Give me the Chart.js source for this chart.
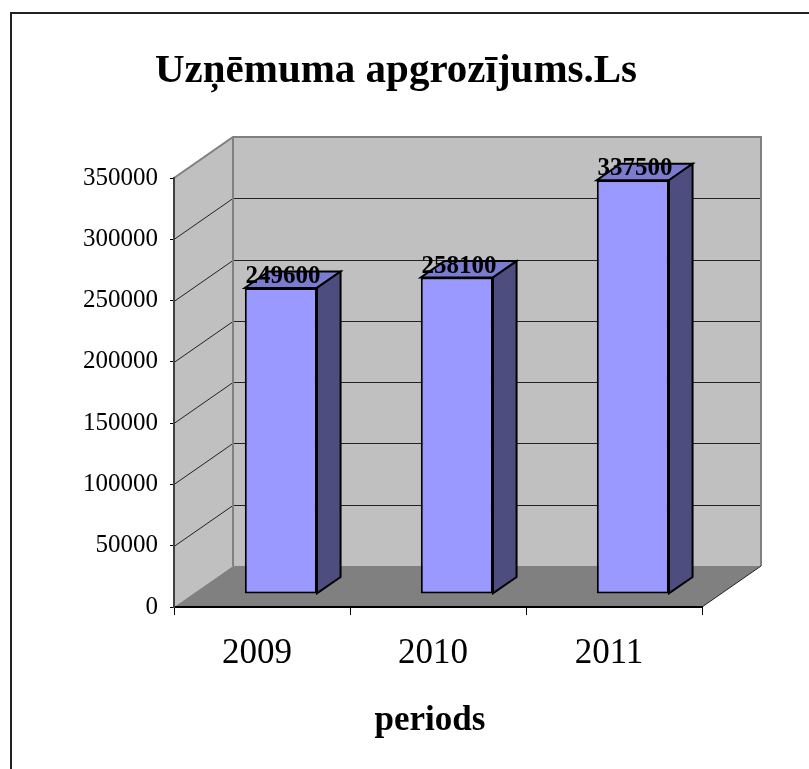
<!DOCTYPE html>
<html>
<head>
<meta charset="utf-8">
<script src="https://cdn.jsdelivr.net/npm/chart.js@4.4.1/dist/chart.umd.min.js"></script>
<style>
html, body { margin: 0; padding: 0; background: #fff; }
canvas { display: block; }
</style>
</head>
<body>
<canvas id="chart" width="809" height="769"></canvas>
<script>
// data
const periods = ['2009', '2010', '2011'];
const turnover = [249600, 258100, 337500];
const yMin = 0;
const yMax = 350000;
const yStep = 50000;

const titleText = 'Uzņēmuma apgrozījums.Ls';
const xTitleText = 'periods';

const SERIF = '"Liberation Serif", "Times New Roman", serif';
// fake 3d: depth of the walls and where the bars sit inside it
const DEPTH = { x: 59, y: -41 };
const BAR_FRONT = 0.32;
const BAR_BACK = 0.72;

function poly(ctx, pts) {
    ctx.beginPath();
    ctx.moveTo(pts[0][0], pts[0][1]);
    for (let i = 1; i < pts.length; i++) ctx.lineTo(pts[i][0], pts[i][1]);
    ctx.closePath();
}

const walls3d = {
    id: 'walls3d',
    beforeDraw(chart) {
        const { ctx, chartArea: a, scales: { y } } = chart;
        const dx = DEPTH.x, dy = DEPTH.y;
        ctx.save();

        // outer frame (runs off the right and bottom edges)
        ctx.strokeStyle = '#222';
        ctx.lineWidth = 2;
        ctx.strokeRect(11, 13, 1000, 1000);

        // titles
        ctx.fillStyle = '#000';
        ctx.textAlign = 'center';
        ctx.textBaseline = 'alphabetic';
        ctx.font = 'bold 41px ' + SERIF;
        ctx.fillText(titleText, 396, 82);
        ctx.font = 'bold 35px ' + SERIF;
        ctx.fillText(xTitleText, 430, 730);

        // side wall, back wall, floor
        ctx.fillStyle = '#c0c0c0';
        poly(ctx, [[a.left, a.bottom], [a.left, a.top], [a.left + dx, a.top + dy], [a.left + dx, a.bottom + dy]]);
        ctx.fill();
        poly(ctx, [[a.left + dx, a.top + dy], [a.right + dx, a.top + dy], [a.right + dx, a.bottom + dy], [a.left + dx, a.bottom + dy]]);
        ctx.fill();
        ctx.fillStyle = '#808080';
        poly(ctx, [[a.left, a.bottom], [a.right, a.bottom], [a.right + dx, a.bottom + dy], [a.left + dx, a.bottom + dy]]);
        ctx.fill();

        // gridlines folded over side and back wall
        ctx.strokeStyle = '#222';
        ctx.lineWidth = 1;
        y.ticks.forEach(t => {
            if (t.value <= yMin || t.value >= yMax) return;
            const py = Math.round(y.getPixelForValue(t.value)) + 0.5;
            ctx.beginPath();
            ctx.moveTo(a.left, py);
            ctx.lineTo(a.left + dx, py + dy);
            ctx.lineTo(a.right + dx, py + dy);
            ctx.stroke();
        });

        // wall edges
        ctx.strokeStyle = '#808080';
        ctx.lineWidth = 2;
        ctx.beginPath();
        ctx.moveTo(a.left, a.top);
        ctx.lineTo(a.left + dx, a.top + dy);
        ctx.lineTo(a.right + dx, a.top + dy);
        ctx.lineTo(a.right + dx, a.bottom + dy);
        ctx.moveTo(a.left + dx, a.top + dy);
        ctx.lineTo(a.left + dx, a.bottom + dy);
        ctx.stroke();

        ctx.strokeStyle = '#222';
        ctx.lineWidth = 1;
        ctx.beginPath();
        ctx.moveTo(a.right, a.bottom);
        ctx.lineTo(a.right + dx, a.bottom + dy);
        ctx.stroke();

        ctx.restore();
    }
};

const bars3d = {
    id: 'bars3d',
    beforeDatasetsDraw(chart) {
        chart.ctx.save();
        chart.ctx.translate(DEPTH.x * BAR_FRONT, DEPTH.y * BAR_FRONT);
    },
    afterDatasetsDraw(chart) {
        const ctx = chart.ctx;
        ctx.restore();
        const ox = DEPTH.x * BAR_FRONT, oy = DEPTH.y * BAR_FRONT;
        const bx = DEPTH.x * (BAR_BACK - BAR_FRONT), by = DEPTH.y * (BAR_BACK - BAR_FRONT);
        ctx.save();
        ctx.lineWidth = 2;
        ctx.lineJoin = 'miter';
        ctx.strokeStyle = '#000';
        chart.getDatasetMeta(0).data.forEach((bar, i) => {
            const { x, y, base, width } = bar.getProps(['x', 'y', 'base', 'width'], true);
            const l = x - width / 2 + ox, r = x + width / 2 + ox;
            const t = y + oy, b = base + oy;

            ctx.fillStyle = '#7b7bd0';
            poly(ctx, [[l, t], [r, t], [r + bx, t + by], [l + bx, t + by]]);
            ctx.fill();
            ctx.stroke();

            ctx.fillStyle = '#4d4d80';
            poly(ctx, [[r, t], [r + bx, t + by], [r + bx, b + by], [r, b]]);
            ctx.fill();
            ctx.stroke();

            ctx.fillStyle = '#000';
            ctx.font = 'bold 25px ' + SERIF;
            ctx.textAlign = 'center';
            ctx.textBaseline = 'alphabetic';
            ctx.fillText(String(turnover[i]), x + ox + 2, t - 5);
        });
        ctx.restore();
    }
};

new Chart(document.getElementById('chart'), {
    type: 'bar',
    data: {
        labels: periods,
        datasets: [{
            data: turnover,
            backgroundColor: '#9999ff',
            borderColor: '#000',
            borderWidth: 2,
            borderSkipped: false,
            barPercentage: 0.41,
            categoryPercentage: 1
        }]
    },
    options: {
        responsive: false,
        animation: false,
        layout: { padding: { left: 0, right: 107, top: 178, bottom: 0 } },
        plugins: {
            legend: { display: false },
            tooltip: { enabled: false },
            title: { display: false }
        },
        scales: {
            x: {
                afterFit(scale) { scale.height = 162; },
                grid: { drawOnChartArea: false, drawTicks: true, tickLength: 8, color: '#000', offset: true },
                border: { display: true, color: '#000', width: 2 },
                ticks: {
                    color: '#000',
                    font: { family: SERIF, size: 35 },
                    padding: 18,
                    labelOffset: -5,
                    maxRotation: 0
                }
            },
            y: {
                min: yMin,
                max: yMax,
                afterFit(scale) { scale.width = 174; },
                grid: { drawOnChartArea: false, drawTicks: true, tickLength: 4, color: '#000' },
                border: { display: true, color: '#404040', width: 2 },
                ticks: {
                    stepSize: yStep,
                    color: '#000',
                    font: { family: SERIF, size: 25 },
                    padding: 12,
                    autoSkip: false,
                    callback: v => String(v)
                }
            }
        }
    },
    plugins: [walls3d, bars3d]
});
</script>
</body>
</html>
